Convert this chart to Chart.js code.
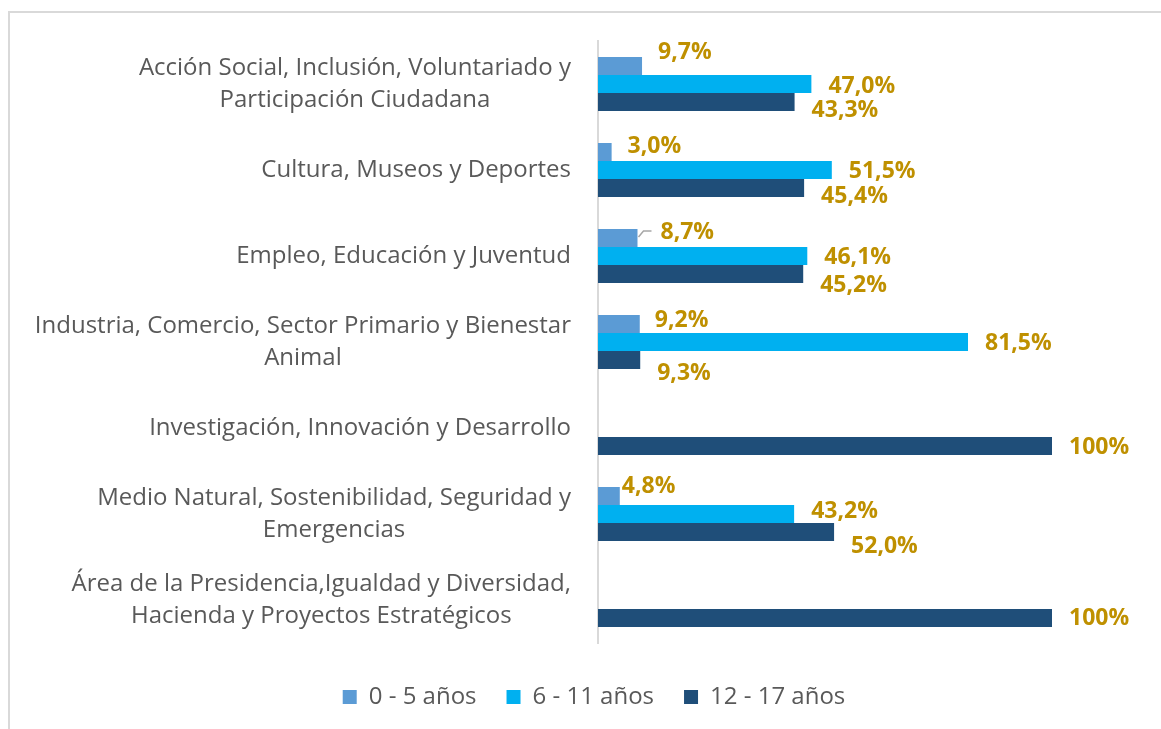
<!DOCTYPE html>
<html>
<head>
<meta charset="utf-8">
<script src="https://cdn.jsdelivr.net/npm/chart.js@4"></script>
<style>
    html, body { margin: 0; padding: 0; background: #fff; }
    #wrap { position: relative; width: 1161px; height: 729px; overflow: hidden; }
    #frame {
        position: absolute; left: 8px; top: 11px; width: 1200px; height: 760px;
        border-top: 2px solid #d9d9d9; border-left: 2px solid #d9d9d9;
    }
    canvas { position: absolute; left: 0; top: 0; }
</style>
</head>
<body>
<div id="wrap">
    <div id="frame"></div>
    <canvas id="chart" width="1161" height="729"></canvas>
</div>
<script>
'use strict';

// ==================== DATA ====================

const categories = [
    ['Acción Social, Inclusión, Voluntariado y', 'Participación Ciudadana'],
    ['Cultura, Museos y Deportes'],
    ['Empleo, Educación y Juventud'],
    ['Industria, Comercio, Sector Primario y Bienestar', 'Animal'],
    ['Investigación, Innovación y Desarrollo'],
    ['Medio Natural, Sostenibilidad, Seguridad y', 'Emergencias'],
    ['Área de la Presidencia,Igualdad y Diversidad,', 'Hacienda y Proyectos Estratégicos']
];

const seriesNames = ['0 - 5 años', '6 - 11 años', '12 - 17 años'];

const age0to5 = [9.7, 3.0, 8.7, 9.2, 0, 4.8, 0];
const age6to11 = [47.0, 51.5, 46.1, 81.5, 0, 43.2, 0];
const age12to17 = [43.3, 45.4, 45.2, 9.3, 100, 52.0, 100];

// ==================== STYLE ====================

const colors = ['#5B9BD5', '#00B0F0', '#1F4E79'];
const labelColor = '#BF9000';
const textColor = '#595959';
const fontFamily = '"Open Sans", Lato, sans-serif';

// label nudges (Excel moved some labels by hand)
const nudgeY = [
    [-14, -6, -6, -4, 0, -10, 0],
    [2, 1, 1, 1, 0, -3, 0],
    [8, 8, 11, 13, 1, 14, 0]
];
const nudgeX = [
    [16, 16, 23, 15, 16, 2, 16],
    [17, 17, 17, 17, 17, 17, 17],
    [17, 17, 17, 17, 17, 17, 17]
];

function formatPct(v) {
    if (v === 100) return '100%';
    return v.toFixed(1).replace('.', ',') + '%';
}

// y category labels: block right-aligned, lines centered inside the block
const categoryLabels = {
    id: 'categoryLabels',
    afterDraw(chart) {
        const ctx = chart.ctx;
        const y = chart.scales.y;
        ctx.save();
        ctx.font = '24px ' + fontFamily;
        ctx.fillStyle = textColor;
        ctx.textAlign = 'center';
        ctx.textBaseline = 'middle';
        categories.forEach((lines, i) => {
            const cy = y.getPixelForTick(i);
            const w = Math.max(...lines.map(l => ctx.measureText(l).width));
            const cx = 571 - w / 2;
            const lh = 32;
            lines.forEach((line, j) => {
                ctx.fillText(line, cx, cy + (j - (lines.length - 1) / 2) * lh);
            });
        });
        ctx.restore();
    }
};

// data labels
const valueLabels = {
    id: 'valueLabels',
    afterDatasetsDraw(chart) {
        const ctx = chart.ctx;
        ctx.save();
        ctx.font = 'bold 23px ' + fontFamily;
        ctx.fillStyle = labelColor;
        ctx.textAlign = 'left';
        ctx.textBaseline = 'middle';
        chart.data.datasets.forEach((ds, si) => {
            const meta = chart.getDatasetMeta(si);
            meta.data.forEach((bar, i) => {
                const v = ds.data[i];
                if (!v) return;
                ctx.fillText(formatPct(v), bar.x + nudgeX[si][i], bar.y + nudgeY[si][i]);
            });
        });
        // leader line for the 8,7% label
        const b = chart.getDatasetMeta(0).data[2];
        ctx.strokeStyle = '#a6a6a6';
        ctx.lineWidth = 1.5;
        ctx.beginPath();
        ctx.moveTo(b.x + 1, b.y - 1);
        ctx.lineTo(b.x + 6, b.y - 7);
        ctx.lineTo(b.x + 14, b.y - 7);
        ctx.stroke();
        ctx.restore();
    }
};

const ctx = document.getElementById('chart').getContext('2d');

new Chart(ctx, {
    type: 'bar',
    data: {
        labels: categories,
        datasets: [age0to5, age6to11, age12to17].map((d, i) => ({
            label: seriesNames[i],
            data: d,
            backgroundColor: colors[i],
            borderWidth: 0,
            barPercentage: 1,
            categoryPercentage: 0.628
        }))
    },
    options: {
        responsive: false,
        animation: false,
        devicePixelRatio: 1,
        indexAxis: 'y',
        layout: { padding: { left: 136, right: 109, top: 41, bottom: 10 } },
        scales: {
            x: {
                min: 0,
                max: 100,
                ticks: { display: false },
                grid: { display: false },
                border: { display: false },
                afterFit: s => { s.height = 12; }
            },
            y: {
                ticks: { display: false },
                grid: { display: false },
                border: { display: true, color: '#d9d9d9', width: 2 },
                afterFit: s => { s.width = 462; }
            }
        },
        plugins: {
            legend: {
                position: 'bottom',
                labels: {
                    color: textColor,
                    font: { family: fontFamily, size: 24 },
                    boxWidth: 14,
                    boxHeight: 14,
                    padding: 30
                }
            },
            tooltip: { enabled: false }
        }
    },
    plugins: [categoryLabels, valueLabels]
});
</script>
</body>
</html>
